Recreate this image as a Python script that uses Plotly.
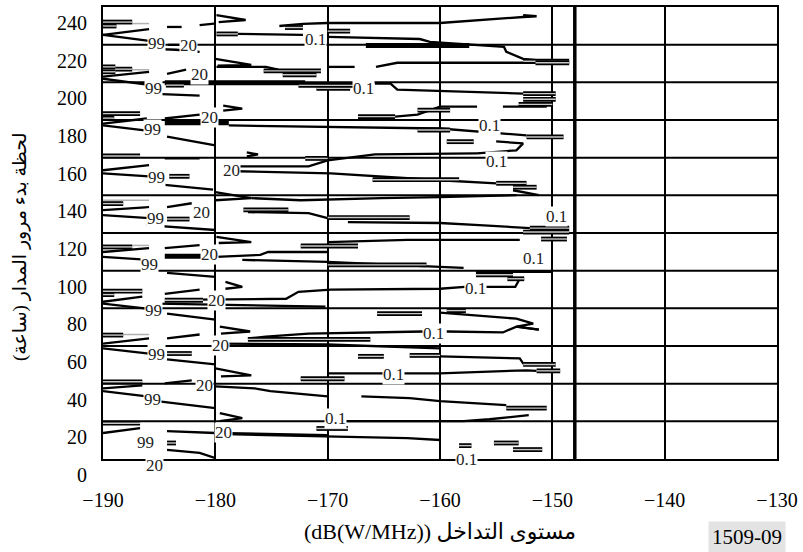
import plotly.graph_objects as go

# ---------------- axes / grid values ----------------
x_ticks = [-190, -180, -170, -160, -150, -140, -130]
y_ticks = [20, 40, 60, 80, 100, 120, 140, 160, 180, 200, 220, 240]
y_range = [8.5, 248.5]
band_edges = [28.5, 48.5, 68.5, 88.5, 108.5, 128.5, 148.5, 168.5, 188.5, 208.5, 228.5]
threshold_db = -148

# ---------------- contour lines (x in dB(W/MHz), y in hours) ----------------
contour_lines = [
    # band 240
    ([-190, -185.9], [233.7, 236.8]),
    ([-184.3, -183.0], [237.9, 237.9]),
    ([-181.4, -180.1], [238.9, 239.7]),
    ([-190, -185.9, -185.5], [233.7, 230.5, 229.5]),
    ([-184.2, -183.0], [228.4, 228.4]),
    ([-185.6, -183.5, -181.4], [226.3, 225.8, 224.7]),
    ([-179.9, -177.3, -179.7], [244.2, 241.6, 240.5]),
    ([-178.0, -172.2], [234.2, 233.7]),
    ([-170.0, -161.8, -160.9, -154.3, -154.1, -152.6, -150.5], [232.6, 231.5, 230.0, 227.3, 224.7, 221.0, 219.7]),
    ([-174.3, -172.2, -170.0, -160.0, -152.6, -151.4, -152.6], [238.4, 239.5, 240.0, 240.0, 243.2, 243.6, 244.2]),
    # band 220
    ([-190, -185.9], [211.5, 214.1]),
    ([-184.3, -182.6], [213.0, 215.2]),
    ([-190, -185.9, -185.6], [210.4, 207.2, 206.5]),
    ([-180.0, -176.8, -179.8], [221.0, 217.8, 217.3]),
    ([-179.9, -175.5, -174.4], [216.7, 216.7, 215.2]),
    ([-170.0, -167.6], [216.7, 216.7]),
    ([-165.7, -163.8, -150.5], [216.7, 218.9, 218.9]),
    ([-165.8, -164.4, -163.8, -152.6], [207.8, 207.8, 204.6, 202.5]),
    # band 200
    ([-185.9, -181.4], [202.5, 201.4]),
    ([-190, -186.1], [186.6, 189.3]),
    ([-184.5, -181.4], [189.3, 191.4]),
    ([-179.3, -177.6, -179.3], [196.1, 194.5, 193.5]),
    ([-178.8, -170.0, -160.0, -152.3], [185.6, 185.0, 184.0, 180.3]),
    ([-164.0, -162.0, -160.0, -156.7], [190.3, 191.4, 195.6, 195.6]),
    ([-154.4, -150.5], [195.6, 195.6]),
    # band 180
    ([-190, -186.1], [185.6, 182.9]),
    ([-184.3, -180.0], [179.7, 175.0]),
    ([-155.0, -152.6, -153.2, -156.7], [177.1, 176.1, 172.4, 170.8]),
    ([-184.5, -181.4], [168.1, 168.1]),
    # band 160
    ([-190, -185.9], [161.8, 164.5]),
    ([-177.2, -176.2, -177.2], [171.3, 170.2, 169.2]),
    ([-190, -185.9], [160.2, 158.6]),
    ([-178.2, -171.7, -170.0, -165.8, -156.7], [163.9, 163.9, 167.1, 170.2, 170.8]),
    ([-178.2, -169.7, -160.0, -155.0], [161.3, 160.2, 156.5, 154.9]),
    ([-185.2, -180.2], [154.5, 151.5]),
    ([-153.5, -151.2], [151.2, 148.6]),
    # band 140
    ([-180.0, -176.8, -180.0], [150.2, 147.0, 145.9]),
    ([-190, -185.9], [140.6, 142.2]),
    ([-184.3, -182.1], [142.2, 144.3]),
    ([-190, -185.9], [138.0, 136.4]),
    ([-186.1, -180.0], [132.7, 130.1]),
    ([-176.8, -172.4, -165.2, -160.0, -153.2], [147.0, 145.9, 147.0, 147.5, 148.6]),
    ([-177.1, -171.7, -170.0], [139.6, 139.1, 136.4]),
    ([-168.2, -160.0, -156.5, -152.0], [134.3, 133.8, 132.7, 131.1]),
    # band 120
    ([-190, -185.9], [118.4, 120.5]),
    ([-184.5, -181.4], [120.5, 122.1]),
    ([-179.9, -176.0, -175.3, -170.0], [115.8, 116.9, 118.4, 118.4]),
    ([-190, -185.9], [115.8, 114.2]),
    ([-179.9, -176.8, -179.7], [126.4, 123.7, 123.2]),
    ([-170.0, -162.9, -152.9], [123.7, 124.8, 124.8]),
    ([-177.6, -170.0, -160.0, -157.9], [114.2, 113.2, 110.5, 110.0]),
    ([-156.8, -150.1], [107.9, 107.9]),
    # band 100
    ([-184.3, -180.0], [107.3, 105.2]),
    ([-179.1, -177.6, -179.1], [102.6, 99.9, 98.9]),
    ([-190, -186.5], [92.0, 94.7]),
    ([-184.5, -181.4], [96.2, 98.4]),
    ([-181.4, -173.7, -172.6, -169.7, -160.0, -157.8], [93.1, 93.6, 97.3, 98.4, 98.9, 99.9]),
    ([-155.9, -153.3, -152.9], [99.9, 99.9, 104.2]),
    ([-190, -186.1], [91.0, 88.3]),
    ([-185.2, -170.2], [91.0, 89.4]),
    ([-184.3, -180.0], [85.7, 82.5]),
    # band 80
    ([-160.0, -153.2, -151.7, -153.2, -151.2], [86.2, 83.0, 80.4, 78.8, 77.2]),
    ([-190, -185.9], [69.8, 72.5]),
    ([-184.3, -181.4], [72.5, 74.6]),
    ([-179.6, -176.9, -179.5], [78.8, 76.2, 75.1]),
    ([-177.1, -175.5, -171.7, -161.5], [72.5, 73.5, 75.1, 76.2]),
    ([-159.4, -154.4, -153.2, -151.2], [76.2, 75.7, 78.8, 77.2]),
    ([-180.0, -170.0, -160.0], [69.8, 69.3, 67.2]),
    ([-190, -185.9], [67.2, 64.5]),
    ([-184.3, -180.0], [61.4, 58.7]),
    # band 60
    ([-160.0, -152.9, -152.6, -151.4], [63.0, 61.9, 59.3, 58.7]),
    ([-180.0, -176.8, -179.5], [56.6, 52.9, 52.4]),
    ([-190, -186.5], [46.0, 47.6]),
    ([-184.5, -182.1], [48.7, 50.3]),
    ([-170.0, -160.0, -152.3, -151.4], [54.0, 54.0, 55.6, 55.3]),
    ([-180.0, -176.5, -175.1, -170.0], [47.1, 46.0, 44.5, 41.8]),
    # band 40
    ([-190, -186.1], [44.5, 41.8]),
    ([-185.2, -180.0], [39.2, 35.5]),
    ([-167.0, -162.7, -160.0, -156.2, -154.1], [41.8, 40.8, 39.2, 38.1, 37.1]),
    ([-179.6, -177.6, -179.6], [32.8, 30.2, 28.6]),
    ([-170.0, -157.9, -155.6, -152.1], [28.6, 28.6, 29.6, 31.8]),
    # band 20
    ([-190, -186.7], [22.3, 24.9]),
    ([-184.3, -180.0, -170.0], [23.3, 22.3, 21.2]),
    ([-180.0, -169.7, -162.9, -160.0], [21.8, 20.7, 19.6, 18.6]),
    ([-184.3, -181.4, -180.0], [13.3, 11.7, 9.0]),
]

# narrow closed contour loops (drawn as double outlines)
closed_loops = [
    ([-190, -187.4], [240.5, 240.5]), ([-190, -188.8], [238.4, 238.4]),
    ([-173.8, -172.2], [237.6, 237.6]), ([-179.9, -178.0], [234.2, 234.2]),
    ([-152.6, -148.5], [219.7, 219.7]), ([-170.0, -168.0], [235.7, 235.7]),
    ([-190, -188.9], [216.7, 216.7]), ([-190, -188.9], [214.1, 214.1]),
    ([-188.9, -187.4], [215.5, 215.5]), ([-184.4, -182.8], [207.0, 207.0]),
    ([-175.7, -170.6], [214.6, 214.6]), ([-174.0, -171.0], [212.5, 212.5]),
    ([-172.6, -167.6], [206.9, 206.9]), ([-171.0, -168.0], [205.3, 205.3]),
    ([-152.6, -149.7], [202.5, 202.5]), ([-151.5, -148.5], [218.9, 218.9]),
    ([-152.6, -149.7], [199.5, 199.5]), ([-153.0, -150.0], [196.8, 196.8]),
    ([-190, -186.7], [191.9, 191.9]), ([-190, -189.0], [189.5, 189.5]),
    ([-167.3, -164.0], [190.3, 190.3]), ([-162.0, -159.1], [193.7, 193.7]),
    ([-152.3, -149.0], [179.5, 179.5]),
    ([-162.0, -159.1], [183.2, 183.2]), ([-159.4, -157.0], [177.0, 177.0]),
    ([-190, -186.7], [169.4, 169.4]),
    ([-184.1, -182.3], [158.6, 158.6]), ([-166.0, -158.3], [156.8, 156.8]),
    ([-172.0, -170.0], [168.1, 168.1]), ([-155.0, -152.3], [154.9, 154.9]),
    ([-153.5, -151.4], [152.8, 152.8]),
    ([-190, -188.2], [144.1, 144.1]), ([-184.3, -182.3], [135.9, 135.9]),
    ([-177.5, -173.5], [140.8, 140.8]), ([-170.0, -162.7], [136.7, 136.7]),
    ([-152.0, -148.5], [131.1, 131.1]), ([-152.6, -148.5], [129.0, 129.0]),
    ([-151.0, -148.7], [125.3, 125.3]),
    ([-190, -187.4], [121.1, 121.1]), ([-172.4, -167.3], [121.6, 121.6]),
    ([-170.0, -161.2], [111.6, 111.6]), ([-156.8, -153.5], [106.3, 106.3]),
    ([-190, -186.5], [97.6, 97.6]), ([-190, -189.0], [95.8, 95.8]),
    ([-184.5, -181.1], [92.8, 92.8]), ([-154.0, -152.5], [104.2, 104.2]),
    ([-165.6, -161.6], [85.7, 85.7]), ([-159.4, -157.7], [87.3, 87.3]),
    ([-190, -188.2], [74.3, 74.3]), ([-177.1, -166.2], [72.0, 72.0]),
    ([-184.3, -182.1], [64.5, 64.5]),
    ([-167.3, -165.0], [63.0, 63.0]), ([-162.7, -160.0], [63.5, 63.5]),
    ([-152.6, -149.7], [58.7, 58.7]), ([-190, -186.5], [49.5, 49.5]),
    ([-172.4, -168.5], [51.1, 51.1]), ([-151.4, -149.3], [55.3, 55.3]),
    ([-154.1, -150.5], [35.5, 35.5]), ([-190, -186.7], [27.5, 27.5]),
    ([-171.0, -168.2], [24.7, 24.7]),
    ([-158.3, -157.2], [15.6, 15.6]), ([-155.2, -153.0], [17.0, 17.0]),
    ([-153.5, -150.9], [13.5, 13.5]), ([-184.3, -183.5], [17.0, 17.0]),
]

# heavy (merged) contour bars
heavy_lines = [
    ([-166.6, -157.4], [228.0, 228.0]),
    ([-184.5, -172.0], [208.3, 208.3]),
    ([-184.5, -178.8], [187.1, 187.1]),
    ([-184.5, -180.0], [116.1, 116.1]),
]

# faint contour traces
faint_lines = [
    ([-187.4, -185.9], [239.7, 239.7]),
    ([-187.4, -185.9], [215.2, 215.2]),
    ([-190, -185.9], [145.9, 145.9]),
    ([-187.4, -185.9], [121.9, 121.9]),
    ([-188.2, -185.9], [74.6, 74.6]),
]

# contour level labels: (text, x, y)
level_labels = [
    ("99", -185.2, 228.9), ("20", -182.4, 227.8), ("0.1", -171.1, 231.0),
    ("20", -181.4, 212.5), ("99", -185.5, 205.1), ("0.1", -166.8, 205.1),
    ("20", -180.5, 189.8), ("0.1", -155.6, 185.6),
    ("99", -185.6, 183.5),
    ("20", -178.6, 161.8), ("99", -185.2, 158.1), ("0.1", -155.0, 166.5),
    ("20", -181.2, 139.6), ("99", -185.3, 136.4), ("0.1", -149.6, 137.5),
    ("20", -180.5, 116.9), ("99", -185.9, 111.6), ("0.1", -151.7, 114.7),
    ("20", -179.9, 92.5), ("0.1", -156.8, 98.9), ("99", -185.5, 87.3),
    ("0.1", -160.6, 75.1), ("20", -179.5, 68.8), ("99", -185.2, 64.0),
    ("0.1", -164.1, 53.5), ("20", -181.0, 47.6),
    ("99", -185.6, 40.2), ("0.1", -169.3, 30.2),
    ("20", -179.3, 22.8), ("99", -186.2, 17.5), ("0.1", -157.6, 8.5), ("20", -185.4, 5.0),
]

x_title = "(dB(W/MHz)) مستوى التداخل"
y_title = "لحظة بدء مرور المدار (ساعة)\u200F"
fig_code = "1509-09"

SERIF = "Liberation Serif"
ARABIC = "DejaVu Sans"

fig = go.Figure()


def add_path(xs, ys, color, width):
    fig.add_trace(go.Scatter(x=xs, y=ys, mode="lines",
                             line=dict(color=color, width=width),
                             hoverinfo="skip", showlegend=False))


for xs, ys in faint_lines:
    add_path(xs, ys, "#b0b0b0", 1.5)
for xs, ys in contour_lines:
    add_path(xs, ys, "black", 2.3)
for xs, ys in heavy_lines:
    add_path(xs, ys, "black", 5)
for xs, ys in closed_loops:
    add_path(xs, ys, "black", 4.8)
    add_path(xs, ys, "#c8c8c8", 1.4)

# band separators and threshold line
shapes = []
for yb in band_edges:
    shapes.append(dict(type="line", xref="paper", x0=0, x1=1, yref="y", y0=yb, y1=yb,
                       line=dict(color="black", width=2), layer="below"))
shapes.append(dict(type="line", xref="x", x0=threshold_db, x1=threshold_db, yref="paper", y0=0, y1=1,
                   line=dict(color="black", width=3.5), layer="below"))

y_span = y_range[1] - y_range[0]


def y_paper(v):
    return (v - y_range[0]) / y_span


annotations = []
for txt, x, y in level_labels:
    if y >= y_range[0]:
        annotations.append(dict(x=x, y=y, xref="x", yref="y", text=txt, showarrow=False,
                                xanchor="center", yanchor="middle",
                                font=dict(family=SERIF, size=17, color="#222"),
                                bgcolor="white", borderpad=0))
    else:
        annotations.append(dict(x=(x + 190) / 60, y=y_paper(y), xref="paper", yref="paper", text=txt,
                                showarrow=False, xanchor="center", yanchor="middle",
                                font=dict(family=SERIF, size=17, color="#222"),
                                bgcolor="white", borderpad=0))
# y tick "0" lies below the axis box
annotations.append(dict(x=0, y=y_paper(0), xref="paper", yref="paper", text="0", showarrow=False,
                        xanchor="right", yanchor="middle", xshift=-14,
                        font=dict(family=SERIF, size=20, color="black")))
annotations.append(dict(x=0.5, y=-0.161, xref="paper", yref="paper", text=x_title, showarrow=False,
                        xanchor="center", yanchor="middle",
                        font=dict(family=SERIF + ", " + ARABIC, size=22, color="black")))
annotations.append(dict(x=-0.124, y=0.47, xref="paper", yref="paper", text=y_title, showarrow=False,
                        xanchor="center", yanchor="middle", textangle=-90,
                        font=dict(family=SERIF + ", " + ARABIC, size=19, color="black")))
annotations.append(dict(x=0.956, y=-0.172, xref="paper", yref="paper", text=fig_code, showarrow=False,
                        xanchor="center", yanchor="middle",
                        bgcolor="#e3e3e3", borderpad=3,
                        font=dict(family=SERIF, size=21, color="black")))

fig.update_layout(
    width=803, height=552,
    margin=dict(l=103, r=20, t=5, b=93),
    plot_bgcolor="white", paper_bgcolor="white",
    showlegend=False,
    shapes=shapes, annotations=annotations,
)
fig.update_xaxes(range=[-190, -130], tickvals=x_ticks, showgrid=True, gridcolor="black", gridwidth=2,
                 showline=True, linecolor="black", linewidth=2, mirror=True, zeroline=False,
                 ticks="", ticklabelstandoff=22, ticklabeloverflow="allow",
                 tickfont=dict(family=SERIF, size=20, color="black"))
fig.update_yaxes(range=y_range, tickvals=y_ticks, showgrid=False,
                 showline=True, linecolor="black", linewidth=2, mirror=True, zeroline=False,
                 ticks="", ticklabelstandoff=10,
                 tickfont=dict(family=SERIF, size=20, color="black"))

fig.write_html("out.html")
